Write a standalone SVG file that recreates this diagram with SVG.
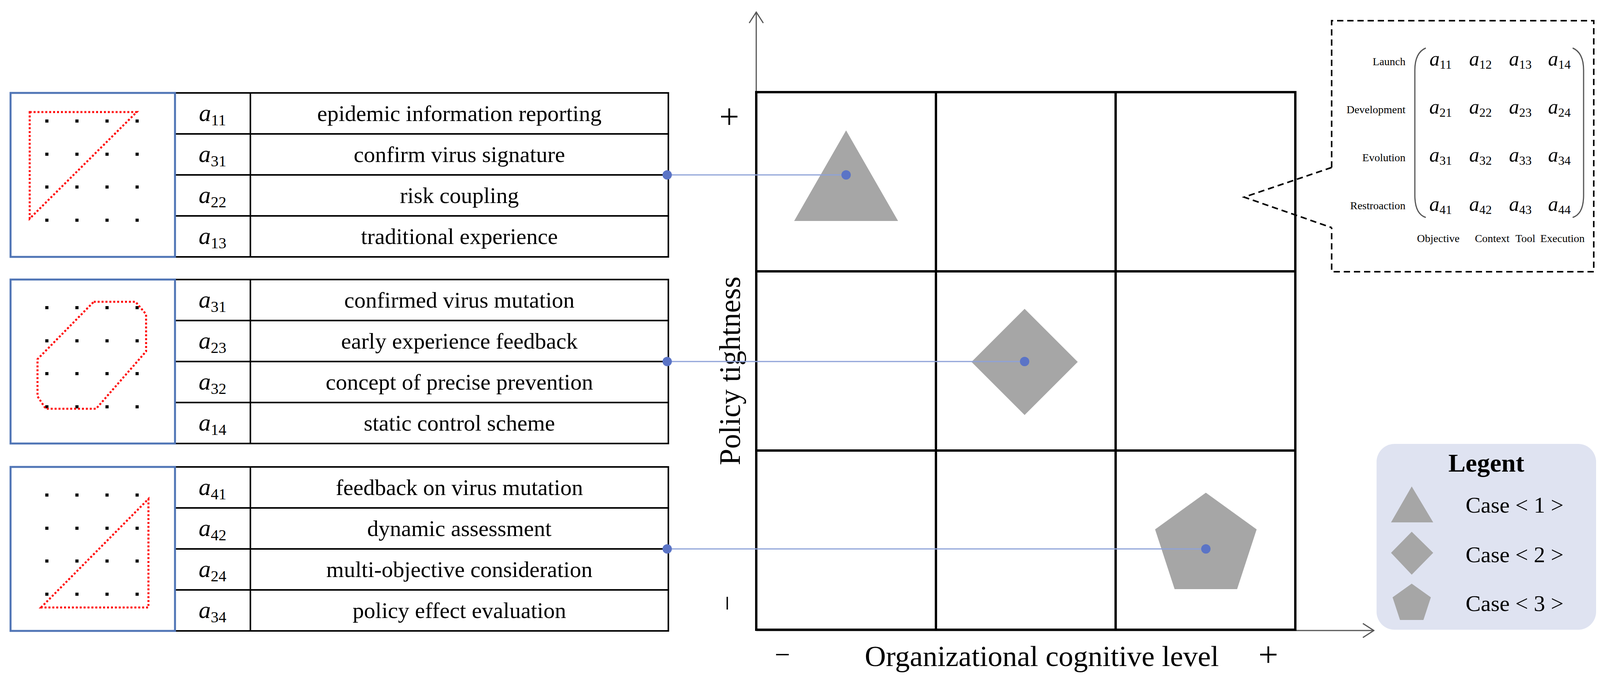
<svg xmlns="http://www.w3.org/2000/svg" width="4279" height="1752" viewBox="0 0 4279 1752">
<defs>
<style>
.serif{font-family:"Liberation Serif","Times New Roman",serif;fill:#000}
.tbl{fill:none;stroke:#000;stroke-width:4}
.blue{fill:#fff;stroke:#4f74b5;stroke-width:5}
.red{fill:none;stroke:#ff0000;stroke-width:5;stroke-dasharray:5 5}
.dot{fill:#000}
.desc{font-size:58px;text-anchor:middle}
.av{font-size:62px;font-style:italic;text-anchor:middle}
.mv{font-size:52px;font-style:italic;text-anchor:middle}
.sub{font-size:40px;font-style:normal}
.msub{font-size:32px;font-style:normal}
.grid{fill:none;stroke:#000;stroke-width:6}
.axis{fill:none;stroke:#555;stroke-width:3}
.shape{fill:#a6a6a6}
.link{stroke:#8ea2d8;stroke-width:3;fill:none}
.ldot{fill:#5b74c6}
.dash{fill:none;stroke:#000;stroke-width:4;stroke-dasharray:16 10}
.small{font-size:28px}
.brk{fill:none;stroke:#555;stroke-width:3}
</style>
<marker id="arr" viewBox="0 0 32 40" refX="30" refY="20" markerWidth="32" markerHeight="40" markerUnits="userSpaceOnUse" orient="auto">
<path d="M2,2 L30,20 L2,38" fill="none" stroke="#555" stroke-width="3"/>
</marker>
<g id="dots">
<rect class="dot" x="116" y="68" width="8" height="8"/><rect class="dot" x="193" y="68" width="8" height="8"/><rect class="dot" x="270" y="68" width="8" height="8"/><rect class="dot" x="347" y="68" width="8" height="8"/>
<rect class="dot" x="116" y="153" width="8" height="8"/><rect class="dot" x="193" y="153" width="8" height="8"/><rect class="dot" x="270" y="153" width="8" height="8"/><rect class="dot" x="347" y="153" width="8" height="8"/>
<rect class="dot" x="116" y="237" width="8" height="8"/><rect class="dot" x="193" y="237" width="8" height="8"/><rect class="dot" x="270" y="237" width="8" height="8"/><rect class="dot" x="347" y="237" width="8" height="8"/>
<rect class="dot" x="116" y="322" width="8" height="8"/><rect class="dot" x="193" y="322" width="8" height="8"/><rect class="dot" x="270" y="322" width="8" height="8"/><rect class="dot" x="347" y="322" width="8" height="8"/>
</g>
<g id="table">
<rect class="tbl" x="448" y="0" width="1263" height="420"/>
<line class="tbl" x1="448" y1="105" x2="1711" y2="105"/>
<line class="tbl" x1="448" y1="210" x2="1711" y2="210"/>
<line class="tbl" x1="448" y1="315" x2="1711" y2="315"/>
<line class="tbl" x1="641" y1="0" x2="641" y2="420"/>
<rect class="blue" x="27" y="0" width="421" height="420"/>
</g>
</defs>

<g id="case-table-1" transform="translate(0,238)">
<use href="#table"/>
<use href="#dots"/>
<polygon class="red" points="76,49 350,49 76,322"/>
<g class="serif">
<text class="av" x="544" y="72">a<tspan class="sub" dy="11">11</tspan></text>
<text class="av" x="544" y="177">a<tspan class="sub" dy="11">31</tspan></text>
<text class="av" x="544" y="282">a<tspan class="sub" dy="11">22</tspan></text>
<text class="av" x="544" y="387">a<tspan class="sub" dy="11">13</tspan></text>
<text class="desc" x="1176" y="72">epidemic information reporting</text>
<text class="desc" x="1176" y="177">confirm virus signature</text>
<text class="desc" x="1176" y="282">risk coupling</text>
<text class="desc" x="1176" y="387">traditional experience</text>
</g>
</g>

<g id="case-table-2" transform="translate(0,716)">
<use href="#table"/>
<use href="#dots"/>
<polygon class="red" points="240,57 347,57 374,89 374,184 246,331 117,331 96,299 96,204"/>
<g class="serif">
<text class="av" x="544" y="72">a<tspan class="sub" dy="11">31</tspan></text>
<text class="av" x="544" y="177">a<tspan class="sub" dy="11">23</tspan></text>
<text class="av" x="544" y="282">a<tspan class="sub" dy="11">32</tspan></text>
<text class="av" x="544" y="387">a<tspan class="sub" dy="11">14</tspan></text>
<text class="desc" x="1176" y="72">confirmed virus mutation</text>
<text class="desc" x="1176" y="177">early experience feedback</text>
<text class="desc" x="1176" y="282">concept of precise prevention</text>
<text class="desc" x="1176" y="387">static control scheme</text>
</g>
</g>

<g id="case-table-3" transform="translate(0,1196)">
<use href="#table"/>
<use href="#dots"/>
<polygon class="red" points="105,360 380,82 380,360"/>
<g class="serif">
<text class="av" x="544" y="72">a<tspan class="sub" dy="11">41</tspan></text>
<text class="av" x="544" y="177">a<tspan class="sub" dy="11">42</tspan></text>
<text class="av" x="544" y="282">a<tspan class="sub" dy="11">24</tspan></text>
<text class="av" x="544" y="387">a<tspan class="sub" dy="11">34</tspan></text>
<text class="desc" x="1176" y="72">feedback on virus mutation</text>
<text class="desc" x="1176" y="177">dynamic assessment</text>
<text class="desc" x="1176" y="282">multi-objective consideration</text>
<text class="desc" x="1176" y="387">policy effect evaluation</text>
</g>
</g>

<g id="chart">
<line class="axis" x1="1936" y1="1615" x2="1936" y2="31" marker-end="url(#arr)"/>
<line class="axis" x1="1936" y1="1615" x2="3517" y2="1615" marker-end="url(#arr)"/>
<rect class="grid" x="1936" y="236" width="1380" height="1377"/>
<line class="grid" x1="2396" y1="236" x2="2396" y2="1613"/>
<line class="grid" x1="2856" y1="236" x2="2856" y2="1613"/>
<line class="grid" x1="1936" y1="695" x2="3316" y2="695"/>
<line class="grid" x1="1936" y1="1154" x2="3316" y2="1154"/>
<g class="serif">
<text x="1867" y="329" font-size="90" text-anchor="middle">+</text>
<text transform="translate(1885,1545) rotate(-90)" font-size="70" text-anchor="middle">−</text>
<text x="2003" y="1700" font-size="70" text-anchor="middle">−</text>
<text x="3247" y="1707" font-size="90" text-anchor="middle">+</text>
<text x="2667" y="1706" font-size="75" text-anchor="middle">Organizational cognitive level</text>
<text transform="translate(1894,950) rotate(-90)" font-size="76" text-anchor="middle">Policy tightness</text>
</g>
</g>

<g id="case-1-marker"><polygon class="shape" points="2166,334 2033,566 2299,566"/></g>
<g id="case-2-marker"><polygon class="shape" points="2623,791 2759,927 2623,1063 2487,927"/></g>
<g id="case-3-marker"><polygon class="shape" points="3087,1262 3217,1356 3167,1509 3007,1509 2957,1356"/></g>

<g id="connectors">
<line class="link" x1="1708" y1="448" x2="2166" y2="448"/>
<line class="link" x1="1708" y1="926" x2="2623" y2="926"/>
<line class="link" x1="1708" y1="1406" x2="3087" y2="1406"/>
<circle class="ldot" cx="1708" cy="448" r="12"/>
<circle class="ldot" cx="2166" cy="448" r="12"/>
<circle class="ldot" cx="1708" cy="926" r="12"/>
<circle class="ldot" cx="2623" cy="926" r="12"/>
<circle class="ldot" cx="1708" cy="1406" r="12"/>
<circle class="ldot" cx="3087" cy="1406" r="12"/>
</g>

<g id="matrix-callout">
<path class="dash" d="M3409,429 L3409,53 L4080,53 L4080,696 L3409,696 L3409,583"/>
<path class="dash" d="M3409,429 L3185,505 L3409,583"/>
<path class="brk" d="M3650,123 Q3622,135 3622,180 L3622,500 Q3622,548 3650,557"/>
<path class="brk" d="M4026,123 Q4054,135 4054,180 L4054,500 Q4054,548 4026,557"/>
<g class="serif small" text-anchor="end">
<text x="3598" y="167">Launch</text>
<text x="3598" y="290">Development</text>
<text x="3598" y="413">Evolution</text>
<text x="3598" y="536">Restroaction</text>
</g>
<g class="serif small" text-anchor="middle">
<text x="3682" y="620">Objective</text>
<text x="3820" y="620">Context</text>
<text x="3905" y="620">Tool</text>
<text x="4000" y="620">Execution</text>
</g>
<g class="serif">
<text class="mv" x="3688" y="168">a<tspan class="msub" dy="8">11</tspan></text>
<text class="mv" x="3790" y="168">a<tspan class="msub" dy="8">12</tspan></text>
<text class="mv" x="3892" y="168">a<tspan class="msub" dy="8">13</tspan></text>
<text class="mv" x="3992" y="168">a<tspan class="msub" dy="8">14</tspan></text>
<text class="mv" x="3688" y="291">a<tspan class="msub" dy="8">21</tspan></text>
<text class="mv" x="3790" y="291">a<tspan class="msub" dy="8">22</tspan></text>
<text class="mv" x="3892" y="291">a<tspan class="msub" dy="8">23</tspan></text>
<text class="mv" x="3992" y="291">a<tspan class="msub" dy="8">24</tspan></text>
<text class="mv" x="3688" y="414">a<tspan class="msub" dy="8">31</tspan></text>
<text class="mv" x="3790" y="414">a<tspan class="msub" dy="8">32</tspan></text>
<text class="mv" x="3892" y="414">a<tspan class="msub" dy="8">33</tspan></text>
<text class="mv" x="3992" y="414">a<tspan class="msub" dy="8">34</tspan></text>
<text class="mv" x="3688" y="540">a<tspan class="msub" dy="8">41</tspan></text>
<text class="mv" x="3790" y="540">a<tspan class="msub" dy="8">42</tspan></text>
<text class="mv" x="3892" y="540">a<tspan class="msub" dy="8">43</tspan></text>
<text class="mv" x="3992" y="540">a<tspan class="msub" dy="8">44</tspan></text>
</g>
</g>

<g id="legend">
<rect x="3524" y="1137" width="562" height="476" rx="46" ry="46" fill="#dfe3f1"/>
<text class="serif" x="3805" y="1208" font-size="66" font-weight="bold" text-anchor="middle">Legent</text>
<polygon class="shape" points="3614,1246 3669,1338 3561,1338"/>
<polygon class="shape" points="3614,1362 3669,1416 3614,1472 3561,1416"/>
<polygon class="shape" points="3614,1495 3663,1530 3644,1588 3584,1588 3565,1530"/>
<g class="serif" font-size="58">
<text x="3752" y="1313">Case &lt; 1 &gt;</text>
<text x="3752" y="1440">Case &lt; 2 &gt;</text>
<text x="3752" y="1565">Case &lt; 3 &gt;</text>
</g>
</g>
</svg>
